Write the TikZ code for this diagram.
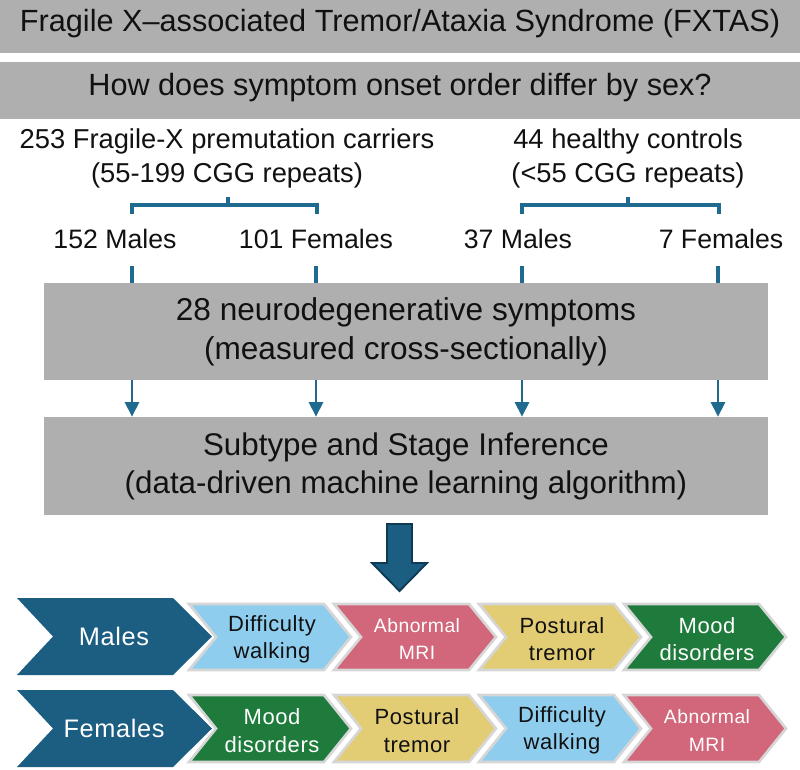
\documentclass[tikz,border=0pt]{standalone}
\usepackage{fontspec}
\setmainfont{Liberation Sans}
\newfontfamily\chevfont[LetterSpace=2.5]{Liberation Sans}
\usetikzlibrary{arrows.meta,calc,positioning}
\definecolor{FxInk}{HTML}{111111}
\definecolor{FxPanel}{HTML}{AFAFAF}
\definecolor{FxAccent}{HTML}{1F6A8E}
\definecolor{FxNavy}{HTML}{1C5D82}
\definecolor{FxNavyEdge}{HTML}{0E3A55}
\definecolor{FxSky}{HTML}{8FCDEE}
\definecolor{FxRose}{HTML}{D2667A}
\definecolor{FxSand}{HTML}{E2CC74}
\definecolor{FxForest}{HTML}{1E7B3C}
\definecolor{FxRim}{HTML}{D6D6D6}
\tikzset{
  every node/.style={text=FxInk, inner sep=0pt},
  banner/.style={fill=FxPanel, minimum width=600pt, font=\fontsize{23}{28}\selectfont, text height=0.75em, text depth=0pt},
  panel/.style={fill=FxPanel, minimum width=543pt, align=center, font=\fontsize{23.7}{29.5}\selectfont},
  group/.style={align=center, font=\fontsize{20.5}{26}\selectfont},
  count/.style={anchor=base, font=\fontsize{20}{24}\selectfont},
  bracket/.style={draw=FxAccent, line width=2.6pt},
  feed/.style={-{Triangle[length=11pt,width=10.5pt]}, draw=FxAccent, line width=2.2pt},
  sexbox/.style={fill=FxNavy},
  sexlabel/.style={text=white, font=\chevfont\fontsize{19}{23}\selectfont},
  stagebox/.style={draw=FxRim, line width=2pt, line join=miter},
  stagetext/.style={align=center},
}
\begin{document}
\begin{tikzpicture}[x=0.75pt,y=-0.75pt]
  \useasboundingbox (0,0) rectangle (800,769);
  % Header banners
  \node[banner, minimum height=39.75pt] (title) at (400,26.5) {Fragile X–associated Tremor/Ataxia Syndrome (FXTAS)};
  \node[banner, minimum height=42.75pt] (question) at (400,90.5) {How does symptom onset order differ by sex?};
  % Cohorts
  \node[group] (carriers) at (227,158.5) {253 Fragile-X premutation carriers\\(55-199 CGG repeats)};
  \node[group] (controls) at (628,158.5) {44 healthy controls\\(<55 CGG repeats)};
  \draw[bracket] (132,214) -- (132,205) -- (317,205) -- (317,214);
  \draw[bracket] (228,205) -- (228,197);
  \draw[bracket] (522,214) -- (522,205) -- (719,205) -- (719,214);
  \draw[bracket] (628,205) -- (628,197);
  \node[count] (carM) at (115,248) {152 Males};
  \node[count] (carF) at (316,248) {101 Females};
  \node[count] (conM) at (518,248) {37 Males};
  \node[count] (conF) at (721,248) {7 Females};
  % Grey process boxes
  \node[panel, minimum height=72.75pt] (symptoms) at (406,331.5) {28 neurodegenerative symptoms\\(measured cross-sectionally)};
  \node[panel, minimum height=73.5pt, font=\fontsize{23.5}{28.5}\selectfont] (inference) at (406,466) {Subtype and Stage Inference\\(data-driven machine learning algorithm)};
  % Ticks into the symptoms box and arrows into the inference box
  \foreach \x [count=\i] in {132,316,522,718}{
    \coordinate (drop\i) at (\x,266);
    \draw[bracket] (drop\i) -- (drop\i |- symptoms.north);
    \draw[feed] (drop\i |- symptoms.south) -- (drop\i |- inference.north);
  }
  % Block arrow down to the results
  \draw[fill=FxNavy, draw=FxNavyEdge, line width=1.4pt]
    (387,524) -- (412,524) -- (412,563) -- (427,563) -- (399.5,591) -- (372,563) -- (387,563) -- cycle;
  % Males row
  \path[sexbox] (17,598) -- (173,598) -- (212,636.5) -- (173,675) -- (17,675) -- (53,636.5) -- cycle;
  \node[sexlabel] (males) at (114,636.5) {Males};
  \foreach \L/\col/\ink/\sz/\txt [count=\i] in {
      189/FxSky/FxInk/16.5/{Difficulty\\walking},
      334/FxRose/white/14.5/{Abnormal\\MRI},
      479/FxSand/FxInk/16.5/{Postural\\tremor},
      624/FxForest/white/16.5/{Mood\\disorders}}{
    \draw[stagebox, fill=\col] (\L,604) -- ++(135,0) -- ++(27,33) -- ++(-27,33) -- ++(-135,0) -- ++(27,-33) -- cycle;
    \node[stagetext, text=\ink, font=\chevfont\fontsize{\sz}{20.5}\selectfont] (ms\i) at (\L+83,639) {\txt};
  }
  % Females row
  \path[sexbox] (17,690) -- (173,690) -- (212,728.5) -- (173,767) -- (17,767) -- (53,728.5) -- cycle;
  \node[sexlabel] (females) at (114,728.5) {Females};
  \foreach \L/\col/\ink/\sz/\txt [count=\i] in {
      189/FxForest/white/16.5/{Mood\\disorders},
      334/FxSand/FxInk/16.5/{Postural\\tremor},
      479/FxSky/FxInk/16.5/{Difficulty\\walking},
      624/FxRose/white/14.5/{Abnormal\\MRI}}{
    \draw[stagebox, fill=\col] (\L,695) -- ++(135,0) -- ++(27,33.5) -- ++(-27,33.5) -- ++(-135,0) -- ++(27,-33.5) -- cycle;
    \node[stagetext, text=\ink, font=\chevfont\fontsize{\sz}{20.5}\selectfont] (fs\i) at (\L+83,730.5) {\txt};
  }
\end{tikzpicture}
\end{document}
